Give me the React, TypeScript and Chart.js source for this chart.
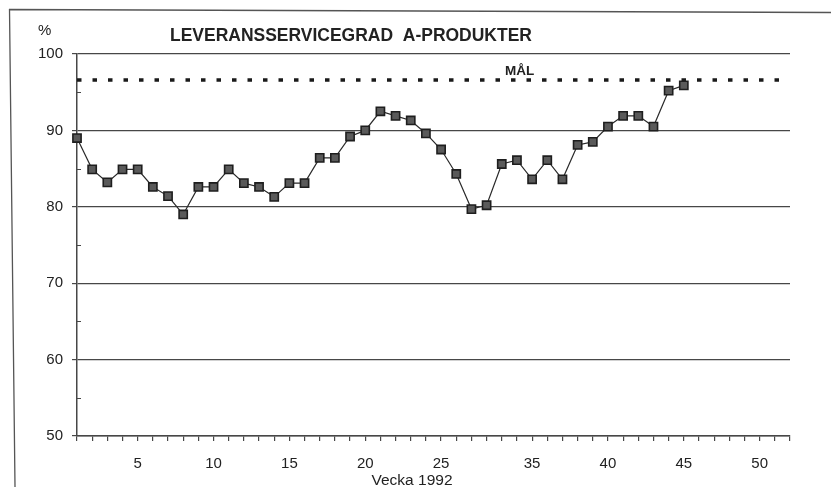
import React, { useEffect, useRef } from 'react';
import { Chart, registerables } from 'chart.js';

Chart.register(...registerables);

// Weeks on the axis (weeks 28–31, summer holiday, are not on the axis)
const WEEKS = [
  '1', '2', '3', '4', '5', '6', '7', '8', '9', '10',
  '11', '12', '13', '14', '15', '16', '17', '18', '19', '20',
  '21', '22', '23', '24', '25', '26', '27',
  '32', '33', '34', '35', '36', '37', '38', '39', '40',
  '41', '42', '43', '44', '45', '46', '47', '48', '49', '50', '51', '52',
];

// Leveransservicegrad (%) per week, weeks 1–27 and 32–45
const SERVICE_LEVEL = [
  89.0, 84.9, 83.2, 84.9, 84.9, 82.6, 81.4, 79.0, 82.6, 82.6,
  84.9, 83.1, 82.6, 81.3, 83.1, 83.1, 86.4, 86.4, 89.2, 90.0,
  92.5, 91.9, 91.3, 89.6, 87.5, 84.3, 79.7,
  80.2, 85.6, 86.1, 83.6, 86.1, 83.6, 88.1, 88.5, 90.5,
  91.9, 91.9, 90.5, 95.2, 95.9,
];

const GOAL = 96.6;
const Y_MIN = 50;
const Y_MAX = 100;
const Y_STEP = 10;
const X_LABEL_EVERY = 5;

const TITLE = 'LEVERANSSERVICEGRAD  A-PRODUKTER';
const Y_UNIT = '%';
const GOAL_LABEL = 'MÅL';
const X_TITLE = 'Vecka 1992';

const FONT = '"Liberation Sans", Arial, Helvetica, sans-serif';
const INK = '#222';
const LINE = '#474747';

const decorPlugin = {
  id: 'decor',
  beforeDraw(chart: any) {
    const { ctx, width, height } = chart;
    ctx.save();
    ctx.fillStyle = '#fff';
    ctx.fillRect(0, 0, width, height);
    ctx.restore();
  },
  afterDraw(chart: any) {
    const { ctx, chartArea } = chart;
    const y = chart.scales.y;
    ctx.save();
    // page frame (top and left)
    ctx.strokeStyle = '#555';
    ctx.lineWidth = 1.3;
    ctx.beginPath();
    ctx.moveTo(9, 9.5);
    ctx.lineTo(831, 12.5);
    ctx.moveTo(9.5, 9);
    ctx.lineTo(15, 487);
    ctx.stroke();

    // minor inward ticks on y axis
    ctx.strokeStyle = LINE;
    ctx.lineWidth = 1.2;
    ctx.beginPath();
    for (let v = y.min + Y_STEP / 2; v < y.max; v += Y_STEP) {
      const py = Math.round(y.getPixelForValue(v)) + 0.5;
      ctx.moveTo(chartArea.left, py);
      ctx.lineTo(chartArea.left + 4, py);
    }
    ctx.stroke();

    ctx.fillStyle = INK;
    ctx.textBaseline = 'alphabetic';
    // title (slightly condensed like the original typeface)
    ctx.save();
    ctx.font = `bold 19px ${FONT}`;
    ctx.textAlign = 'left';
    ctx.translate(170, 41);
    ctx.scale(0.92, 1);
    ctx.fillText(TITLE, 0, 0);
    ctx.restore();
    // % unit
    ctx.font = `15px ${FONT}`;
    ctx.textAlign = 'left';
    ctx.fillText(Y_UNIT, 38, 35);
    // goal label
    ctx.font = `bold 13.5px ${FONT}`;
    ctx.fillText(GOAL_LABEL, 505, y.getPixelForValue(GOAL) - 5);
    // x axis title
    ctx.font = `15.5px ${FONT}`;
    ctx.textAlign = 'center';
    ctx.fillText(X_TITLE, 412, 485);
    ctx.restore();
  },
};

export default function App() {
  const canvasRef = useRef<HTMLCanvasElement | null>(null);

  useEffect(() => {
    const canvas = canvasRef.current;
    if (!canvas) return;
    const chart = new Chart(canvas, {
      type: 'line',
      data: {
        labels: WEEKS,
        datasets: [
          {
            label: 'Leveransservicegrad',
            data: SERVICE_LEVEL,
            borderColor: '#2a2a2a',
            borderWidth: 1.2,
            tension: 0,
            fill: false,
            pointStyle: 'rect',
            pointRadius: 5.8,
            pointBackgroundColor: '#5a5a5a',
            pointBorderColor: '#1e1e1e',
            pointBorderWidth: 1.6,
          },
          {
            label: 'Mål',
            data: WEEKS.map(() => GOAL),
            borderColor: '#1a1a1a',
            borderWidth: 3.5,
            borderDash: [4.5, 11],
            borderCapStyle: 'butt',
            pointRadius: 0,
            fill: false,
          },
        ],
      },
      options: {
        responsive: false,
        animation: false,
        devicePixelRatio: 1,
        layout: { padding: { top: 54, right: 41, left: 0, bottom: 0 } },
        plugins: {
          legend: { display: false },
          tooltip: { enabled: false },
          title: { display: false },
        },
        scales: {
          x: {
            type: 'category',
            offset: false,
            grid: {
              display: true,
              drawOnChartArea: false,
              drawTicks: true,
              tickLength: 5,
              color: LINE,
              lineWidth: 1.2,
            },
            border: { display: true, color: LINE, width: 1.5 },
            ticks: {
              autoSkip: false,
              maxRotation: 0,
              minRotation: 0,
              padding: 14,
              color: INK,
              font: { family: FONT, size: 15 },
              callback: (_v: any, idx: number) =>
                Number(WEEKS[idx]) % X_LABEL_EVERY === 0 ? WEEKS[idx] : '',
            },
            afterFit: (s: any) => {
              s.height = 51;
            },
          },
          y: {
            min: Y_MIN,
            max: Y_MAX,
            grid: {
              color: LINE,
              lineWidth: 1.2,
              tickLength: 5,
            },
            border: { display: true, color: LINE, width: 1.5 },
            ticks: {
              stepSize: Y_STEP,
              padding: 9,
              color: INK,
              font: { family: FONT, size: 15 },
            },
            afterFit: (s: any) => {
              s.width = 77;
            },
          },
        },
      },
      plugins: [decorPlugin],
    });
    return () => chart.destroy();
  }, []);

  return (
    <div
      style={{
        position: 'fixed',
        left: 0,
        top: 0,
        width: 831,
        height: 487,
        background: '#fff',
      }}
    >
      <canvas ref={canvasRef} width={831} height={487} style={{ display: 'block' }} />
    </div>
  );
}
